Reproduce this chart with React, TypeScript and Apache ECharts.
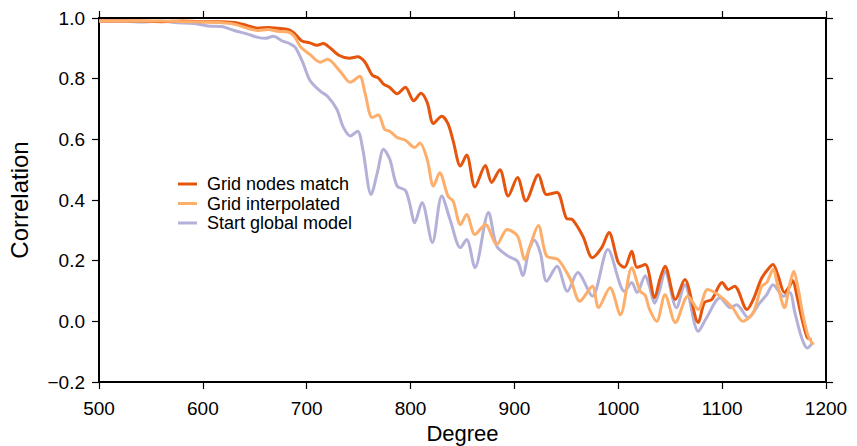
import React, { useEffect, useRef } from "react";
import * as echarts from "echarts";

const FONT = "'Liberation Sans', Arial, Helvetica, sans-serif";

const seriesNames = ["Grid nodes match", "Grid interpolated", "Start global model"];
const seriesColors = ["#e6550d", "#fdae6b", "#b4b1d9"];

const nodesDeg = [500, 520, 540, 560, 580, 600, 615, 630, 643, 653, 663, 672, 682, 688, 695, 703, 710, 716, 722, 731, 741, 749, 756, 763, 769, 774, 780, 787, 795, 803, 810, 816, 822, 830, 836, 841, 848, 854, 862, 872, 878, 886, 894, 903, 911, 923, 931, 941, 950, 956, 966, 975, 984, 991, 1000, 1006, 1013, 1018, 1026, 1035, 1040, 1045, 1055, 1064, 1077, 1083, 1090, 1100, 1106, 1112, 1124, 1130, 1138, 1145, 1149, 1154, 1160, 1165, 1168, 1172, 1177, 1182, 1186];
const nodesVal = [0.99, 0.99, 0.99, 0.988, 0.99, 0.988, 0.988, 0.985, 0.975, 0.966, 0.969, 0.966, 0.962, 0.95, 0.925, 0.918, 0.91, 0.916, 0.903, 0.877, 0.867, 0.872, 0.855, 0.812, 0.802, 0.782, 0.771, 0.75, 0.772, 0.727, 0.752, 0.722, 0.652, 0.676, 0.652, 0.595, 0.512, 0.548, 0.443, 0.514, 0.458, 0.5, 0.413, 0.474, 0.397, 0.483, 0.418, 0.425, 0.34, 0.335, 0.28, 0.21, 0.243, 0.293, 0.194, 0.178, 0.231, 0.178, 0.187, 0.078, 0.138, 0.182, 0.072, 0.138, -0.004, 0.062, 0.072, 0.128, 0.105, 0.116, 0.039, 0.072, 0.142, 0.175, 0.187, 0.149, 0.095, 0.116, 0.135, 0.083, 0.006, -0.054, -0.06];

const interpDeg = [500, 520, 540, 560, 580, 600, 615, 631, 643, 653, 663, 672, 682, 688, 694, 703, 713, 720, 732, 742, 751, 756, 763, 769, 775, 780, 787, 795, 804, 809, 816, 822, 828, 836, 841, 848, 854, 862, 872, 883, 893, 903, 910, 915, 923, 931, 942, 954, 963, 975, 981, 992, 1002, 1013, 1021, 1026, 1030, 1037, 1045, 1055, 1067, 1077, 1086, 1098, 1110, 1120, 1130, 1138, 1143, 1149, 1154, 1160, 1165, 1169, 1173, 1178, 1183, 1188];
const interpVal = [0.99, 0.99, 0.99, 0.99, 0.988, 0.987, 0.985, 0.979, 0.966, 0.959, 0.962, 0.956, 0.954, 0.94, 0.905, 0.88, 0.854, 0.864, 0.825, 0.788, 0.808, 0.755, 0.672, 0.68, 0.633, 0.627, 0.606, 0.597, 0.573, 0.588, 0.534, 0.446, 0.49, 0.413, 0.396, 0.319, 0.352, 0.286, 0.319, 0.253, 0.303, 0.281, 0.204, 0.248, 0.316, 0.215, 0.204, 0.138, 0.066, 0.116, 0.045, 0.111, 0.022, 0.177, 0.1, 0.085, 0.04, 0.0, 0.088, -0.004, 0.083, 0.039, 0.105, 0.083, 0.045, 0.0, 0.029, 0.115, 0.128, 0.171, 0.111, 0.045, 0.121, 0.165, 0.111, 0.017, -0.05, -0.077];

const globalDeg = [500, 520, 541, 560, 573, 592, 605, 618, 631, 643, 653, 660, 668, 676, 684, 689, 696, 703, 713, 720, 729, 735, 742, 749, 754, 762, 768, 774, 780, 787, 795, 799, 804, 811, 821, 830, 838, 848, 854, 862, 875, 883, 894, 903, 908, 914, 919, 925, 931, 941, 951, 961, 975, 990, 1006, 1013, 1018, 1026, 1030, 1035, 1040, 1045, 1056, 1064, 1077, 1085, 1098, 1108, 1114, 1125, 1136, 1143, 1149, 1159, 1165, 1170, 1175, 1179, 1182, 1187];
const globalVal = [0.99, 0.99, 0.987, 0.99, 0.985, 0.982, 0.974, 0.972, 0.958, 0.947, 0.936, 0.933, 0.94, 0.925, 0.915, 0.903, 0.855, 0.795, 0.759, 0.742, 0.699, 0.642, 0.611, 0.627, 0.567, 0.418, 0.49, 0.567, 0.534, 0.446, 0.432, 0.39, 0.325, 0.392, 0.26, 0.413, 0.336, 0.243, 0.27, 0.177, 0.359, 0.248, 0.215, 0.198, 0.151, 0.235, 0.268, 0.225, 0.132, 0.182, 0.099, 0.161, 0.083, 0.237, 0.099, 0.128, 0.095, 0.15, 0.115, 0.06, 0.105, 0.165, 0.045, 0.121, -0.033, 0.012, 0.078, 0.045, 0.055, 0.012, 0.06, 0.088, 0.121, 0.083, 0.095, 0.029, -0.037, -0.075, -0.088, -0.07];

const zip = (xs: number[], ys: number[]) => xs.map((x, i) => [x, ys[i]]);

const axisLine = { show: true, onZero: false, lineStyle: { color: "#000", width: 2 } };
const axisTick = { show: true, inside: false, length: 7, lineStyle: { color: "#000", width: 1.2 } };

export default function App() {
  const ref = useRef<HTMLDivElement>(null);
  useEffect(() => {
    if (!ref.current) return;
    const chart = echarts.init(ref.current, null, { renderer: "svg" });
    const fmtY = (v: number) => (v < -1e-9 ? "\u2212" : "") + Math.abs(v).toFixed(1);
    const fmtX = (v: number) => String(Math.round(v));
    const mk = (idx: number, deg: number[], val: number[], z: number) => ({
      name: seriesNames[idx],
      type: "line",
      data: zip(deg, val),
      smooth: 0.3,
      showSymbol: false,
      symbol: "none",
      z,
      lineStyle: { color: seriesColors[idx], width: 3 },
      itemStyle: { color: seriesColors[idx] },
    });
    chart.setOption({
      animation: false,
      textStyle: { fontFamily: FONT },
      grid: {
        left: 99, top: 18, width: 727, height: 364,
        containLabel: false, outerBoundsMode: "none",
      },
      legend: {
        data: seriesNames,
        orient: "vertical",
        left: 178,
        top: 175,
        padding: 0,
        icon: "rect",
        itemWidth: 19,
        itemHeight: 3,
        itemGap: 1.5,
        textStyle: { fontSize: 18, color: "#000", fontFamily: FONT, padding: [0, 0, 0, 5] },
      },
      xAxis: [
        {
          type: "value", min: 500, max: 1200, interval: 100, position: "bottom",
          axisLine, axisTick, splitLine: { show: false },
          axisLabel: { fontSize: 19, color: "#000", margin: 17, fontFamily: FONT, formatter: fmtX },
          name: "Degree", nameLocation: "middle", nameGap: 32,
          nameTextStyle: { fontSize: 22, color: "#000", fontFamily: FONT },
        },
        {
          type: "value", min: 500, max: 1200, interval: 100, position: "top",
          axisLine, axisTick, splitLine: { show: false }, axisLabel: { show: false },
        },
      ],
      yAxis: [
        {
          type: "value", min: -0.2, max: 1.0, interval: 0.2, position: "left",
          axisLine, axisTick, splitLine: { show: false },
          axisLabel: { fontSize: 19, color: "#000", margin: 14, fontFamily: FONT, formatter: fmtY },
          name: "Correlation", nameLocation: "middle", nameGap: 68, nameRotate: 90,
          nameTextStyle: { fontSize: 24, color: "#000", fontFamily: FONT },
        },
        {
          type: "value", min: -0.2, max: 1.0, interval: 0.2, position: "right",
          axisLine, axisTick, splitLine: { show: false }, axisLabel: { show: false },
        },
      ],
      series: [
        mk(2, globalDeg, globalVal, 2),
        mk(0, nodesDeg, nodesVal, 3),
        mk(1, interpDeg, interpVal, 4),
      ],
    });
    return () => chart.dispose();
  }, []);
  return (
    <div
      ref={ref}
      style={{ position: "fixed", left: 0, top: 0, width: 857, height: 446, background: "#fff" }}
    />
  );
}
